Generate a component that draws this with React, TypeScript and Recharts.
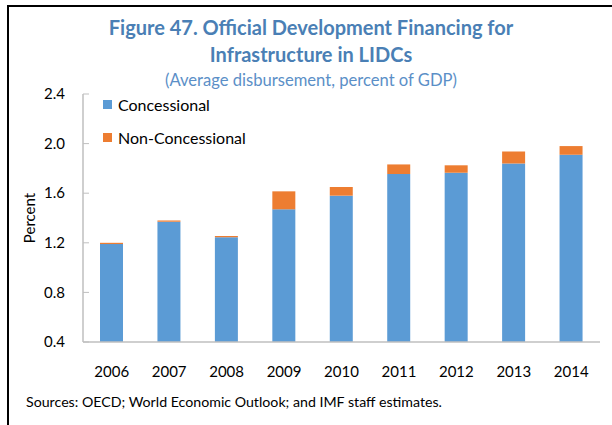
import React from 'react';
import { BarChart, Bar, XAxis, YAxis, Legend, Label } from 'recharts';

const years = ['2006', '2007', '2008', '2009', '2010', '2011', '2012', '2013', '2014'];
const concessional = [1.19, 1.37, 1.245, 1.47, 1.58, 1.755, 1.765, 1.84, 1.91];
const nonConcessional = [0.01, 0.01, 0.01, 0.145, 0.07, 0.077, 0.06, 0.097, 0.07];
const yTicks = [0.4, 0.8, 1.2, 1.6, 2.0, 2.4];

const titleLine1 = 'Figure 47. Official Development Financing for';
const titleLine2 = 'Infrastructure in LIDCs';
const subtitle = '(Average disbursement, percent of GDP)';
const source = 'Sources: OECD; World Economic Outlook; and IMF staff estimates.';

const data = years.map((year, i) => ({
  year,
  Concessional: concessional[i],
  'Non-Concessional': nonConcessional[i],
}));

const FONT = 'Lato, "Noto Sans", sans-serif';
const AXIS_GRAY = '#bfbfbf';

const YTick = (props: any) => {
  const { x, y, payload } = props;
  return (
    <g>
      <text x={x} y={y} dy="0.35em" textAnchor="end" fill="#000" fontSize={15} fontFamily={FONT}>
        {Number(payload.value).toFixed(1)}
      </text>
      <line x1={x + 18} x2={x + 24} y1={y} y2={y} stroke={AXIS_GRAY} strokeWidth={1} />
    </g>
  );
};

const renderLegend = (props: any) => {
  const { payload } = props;
  return (
    <div style={{ fontFamily: FONT, fontSize: 16, color: '#000' }}>
      {(payload || []).map((entry: any) => (
        <div key={entry.value} style={{ display: 'flex', alignItems: 'center', height: 33 }}>
          <span style={{ display: 'inline-block', width: 9, height: 9, background: entry.color, marginRight: 6 }} />
          <span>{entry.value}</span>
        </div>
      ))}
    </div>
  );
};

export default function App() {
  return (
    <div style={{ position: 'absolute', left: 0, top: 0, width: 612, height: 425, background: '#fff', overflow: 'hidden' }}>
      <BarChart
        width={612}
        height={425}
        data={data}
        margin={{ top: 94, right: 12, left: 0, bottom: 0 }}
        barSize={23}
      >
        <XAxis
          dataKey="year"
          height={83}
          tickSize={0}
          tickMargin={24}
          tickLine={false}
          axisLine={{ stroke: AXIS_GRAY, strokeWidth: 1.5 }}
          tick={{ fill: '#000', fontSize: 15, fontFamily: FONT }}
          interval={0}
        />
        <YAxis
          width={83}
          domain={[0.4, 2.4]}
          ticks={yTicks}
          allowDataOverflow
          tickSize={0}
          tickMargin={18}
          tickLine={false}
          axisLine={{ stroke: AXIS_GRAY, strokeWidth: 1.5 }}
          tick={<YTick />}
          interval={0}
        >
          <Label
            value="Percent"
            angle={-90}
            position="insideLeft"
            offset={0}
            dx={30}
            style={{ fill: '#000', fontSize: 15, fontFamily: FONT, textAnchor: 'middle' }}
          />
        </YAxis>
        <Legend
          layout="vertical"
          align="center"
          verticalAlign="middle"
          content={renderLegend}
          wrapperStyle={{ left: 103, top: 88, width: 220, right: 'auto', bottom: 'auto' }}
        />
        <Bar dataKey="Concessional" stackId="a" fill="#5b9bd5" isAnimationActive={false} />
        <Bar dataKey="Non-Concessional" stackId="a" fill="#ed7d31" isAnimationActive={false} />
      </BarChart>
      <svg
        width={612}
        height={425}
        style={{ position: 'absolute', left: 0, top: 0, pointerEvents: 'none' }}
      >
        <rect x={7} y={5} width={2} height={420} fill="#000" />
        <rect x={7} y={5} width={605} height={2} fill="#000" />
        <text x={311} y={35} textAnchor="middle" fontFamily={FONT} fontWeight={700} fontSize={20} fill="#4a7fb5">
          {titleLine1}
        </text>
        <text x={311} y={61.5} textAnchor="middle" fontFamily={FONT} fontWeight={700} fontSize={20} fill="#4a7fb5">
          {titleLine2}
        </text>
        <text x={311} y={86} textAnchor="middle" fontFamily={FONT} fontSize={16.6} fill="#5b8fc7">
          {subtitle}
        </text>
        <text x={26} y={407} fontFamily={FONT} fontSize={14.2} fill="#000">
          {source}
        </text>
      </svg>
    </div>
  );
}
